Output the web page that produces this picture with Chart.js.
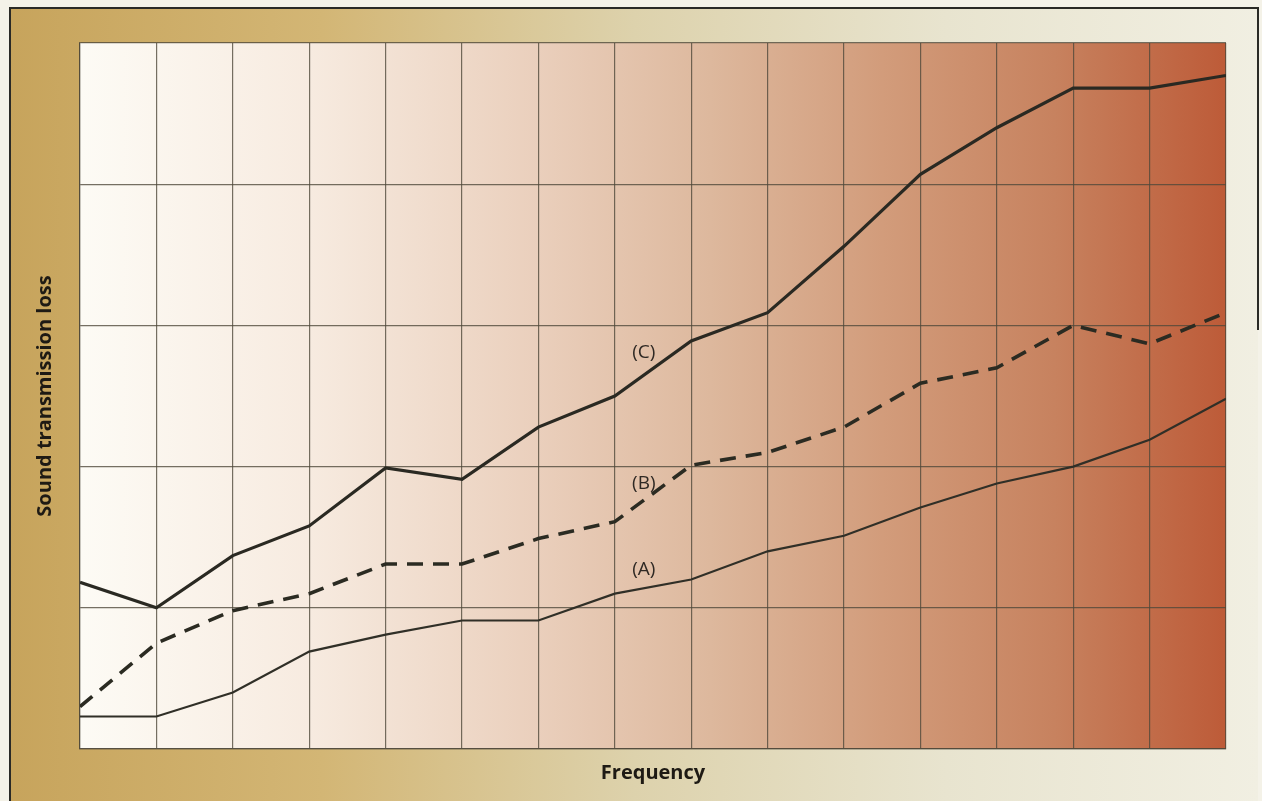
<!DOCTYPE html>
<html lang="en">

<head>
    <meta charset="UTF-8">
    <meta name="viewport" content="width=device-width, initial-scale=1.0">
    <title>Sound Transmission Loss</title>
    <style>
        html, body { margin: 0; padding: 0; background: #f4f2e8; }
        #wrap { width: 1262px; height: 801px; position: relative; }
    </style>
</head>

<body>
    <div id="wrap">
        <canvas id="stlChart"></canvas>
    </div>

    <script src="https://cdn.jsdelivr.net/npm/chart.js@4.4.1/dist/chart.umd.min.js"></script>
    <script>
        // frequency bands (no tick labels shown on the original)
        const bands = [0, 1, 2, 3, 4, 5, 6, 7, 8, 9, 10, 11, 12, 13, 14, 15];

        // sound transmission loss, in grid units (5 rows)
        const seriesA = [0.23, 0.23, 0.40, 0.69, 0.81, 0.91, 0.91, 1.10, 1.20, 1.40, 1.51, 1.71, 1.88, 2.00, 2.19, 2.48];
        const seriesB = [0.30, 0.75, 0.98, 1.10, 1.31, 1.31, 1.49, 1.61, 2.01, 2.10, 2.28, 2.59, 2.70, 3.00, 2.87, 3.09];
        const seriesC = [1.18, 1.00, 1.37, 1.58, 1.99, 1.91, 2.28, 2.50, 2.89, 3.09, 3.56, 4.07, 4.40, 4.68, 4.68, 4.77];

        // curve labels and where they sit (data units)
        const curveNames = ['(A)', '(B)', '(C)'];
        const curveLabelX = [7.38, 7.38, 7.38];
        const curveLabelY = [1.27, 1.88, 2.81];

        const toPoints = vals => vals.map((v, i) => ({ x: bands[i], y: v }));

        const gridColor = 'rgba(78, 72, 58, 0.78)';

        // background: gold-to-cream frame and white-to-rust plot panel
        const backdrop = {
            id: 'backdrop',
            beforeDraw(chart) {
                const { ctx, chartArea: a, height } = chart;
                ctx.save();
                const fg = ctx.createLinearGradient(10, 0, 1258, 0);
                fg.addColorStop(0, '#c7a45c');
                fg.addColorStop(0.25, '#d3b675');
                fg.addColorStop(0.5, '#ddd2ac');
                fg.addColorStop(0.75, '#e8e4cf');
                fg.addColorStop(1, '#f1efe2');
                ctx.fillStyle = fg;
                ctx.fillRect(10, 8, 1248, height - 8);
                ctx.strokeStyle = '#2a2a26';
                ctx.lineWidth = 2;
                ctx.beginPath();
                ctx.moveTo(10, height);
                ctx.lineTo(10, 8);
                ctx.lineTo(1258, 8);
                ctx.lineTo(1258, 330);
                ctx.stroke();

                const pg = ctx.createLinearGradient(a.left, 0, a.right, 0);
                pg.addColorStop(0, '#fdfbf5');
                pg.addColorStop(0.2, '#f7ebe0');
                pg.addColorStop(0.4, '#eacfbc');
                pg.addColorStop(0.55, '#ddb89d');
                pg.addColorStop(0.7, '#d29c7b');
                pg.addColorStop(0.85, '#c7825f');
                pg.addColorStop(1, '#bd5b38');
                ctx.fillStyle = pg;
                ctx.fillRect(a.left, a.top, a.right - a.left, a.bottom - a.top);
                ctx.restore();
            },
            afterDatasetsDraw(chart) {
                const { ctx, scales: { x, y } } = chart;
                ctx.save();
                ctx.font = '19px "Open Sans", sans-serif';
                ctx.fillStyle = '#2f2924';
                ctx.textAlign = 'center';
                ctx.textBaseline = 'middle';
                curveNames.forEach((name, i) => {
                    ctx.fillText(name, x.getPixelForValue(curveLabelX[i]), y.getPixelForValue(curveLabelY[i]));
                });
                ctx.restore();
            }
        };

        const ctx = document.getElementById('stlChart').getContext('2d');
        const chart = new Chart(ctx, {
            type: 'line',
            data: {
                datasets: [
                    {
                        label: 'C',
                        data: toPoints(seriesC),
                        borderColor: '#2a2922',
                        borderWidth: 3.2,
                        pointRadius: 0,
                        tension: 0
                    },
                    {
                        label: 'B',
                        data: toPoints(seriesB),
                        borderColor: '#2b2b22',
                        borderWidth: 3.6,
                        borderDash: [16, 10],
                        pointRadius: 0,
                        tension: 0
                    },
                    {
                        label: 'A',
                        data: toPoints(seriesA),
                        borderColor: '#302f27',
                        borderWidth: 2.2,
                        pointRadius: 0,
                        tension: 0
                    }
                ]
            },
            options: {
                responsive: true,
                maintainAspectRatio: false,
                animation: false,
                layout: {
                    padding: { left: 10, top: 43, right: 36, bottom: 4 }
                },
                plugins: {
                    legend: { display: false },
                    tooltip: { enabled: false }
                },
                scales: {
                    x: {
                        type: 'linear',
                        min: 0,
                        max: 15,
                        ticks: { display: false, stepSize: 1 },
                        grid: { color: gridColor, lineWidth: 1.2, drawTicks: false },
                        border: { display: true, color: gridColor, width: 1.2 },
                        title: {
                            display: true,
                            text: 'Frequency',
                            color: '#1e1a14',
                            font: { family: 'Open Sans', size: 20, weight: 'bold' },
                            padding: { top: 12, bottom: 12 }
                        }
                    },
                    y: {
                        min: 0,
                        max: 5,
                        ticks: { display: false, stepSize: 1 },
                        grid: { color: gridColor, lineWidth: 1.2, drawTicks: false },
                        border: { display: true, color: gridColor, width: 1.2 },
                        title: {
                            display: true,
                            text: 'Sound transmission loss',
                            color: '#1e1a14',
                            font: { family: 'Open Sans', size: 20, weight: 'bold' },
                            padding: { top: 23, bottom: 23 }
                        }
                    }
                }
            },
            plugins: [backdrop]
        });
    </script>

</body>

</html>
